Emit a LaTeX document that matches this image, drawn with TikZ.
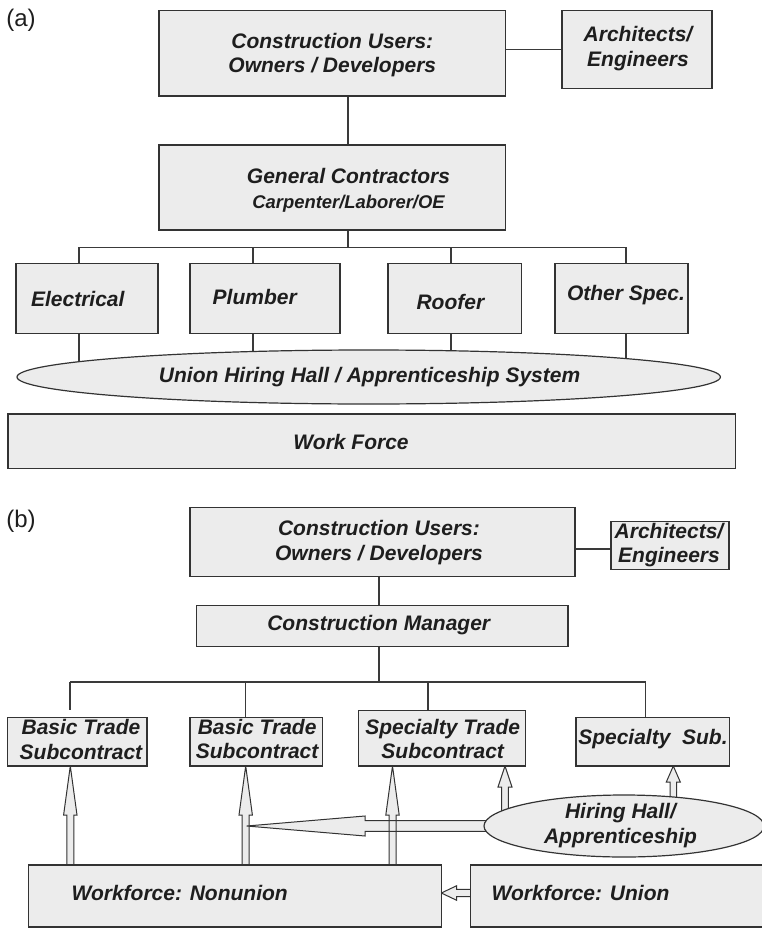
\documentclass[tikz,border=0pt]{standalone}
\usepackage{fontspec}
\setmainfont{Liberation Sans}
\usetikzlibrary{calc,shapes.geometric}
\definecolor{bf}{HTML}{ECECEC}
\definecolor{lc}{HTML}{333333}
\definecolor{cc}{HTML}{3A3A3A}
\definecolor{tc}{HTML}{1E1E1E}
\pgfdeclarelayer{bg}
\pgfsetlayers{bg,main}
% block arrow pointing up: [style]{x coord}{tip}{base}{head length}{shaft half}{head half}
\newcommand\blkup[7][]{%
  \path[#1] let \p1=(#2 |- #3), \p2=(#2 |- #4) in
    (\x1-#6pt,\y2) -- (\x1-#6pt,\y1-#5pt) -- (\x1-#7pt,\y1-#5pt) -- (\x1,\y1)
    -- (\x1+#7pt,\y1-#5pt) -- (\x1+#6pt,\y1-#5pt) -- (\x1+#6pt,\y2) -- cycle;}
% block arrow pointing left: [style]{y coord}{tip}{base}{head length}{shaft half}{head half}
\newcommand\blkleft[7][]{%
  \path[#1] let \p1=(#3 |- #2), \p2=(#4 |- #2) in
    (\x2,\y1+#6pt) -- (\x1+#5pt,\y1+#6pt) -- (\x1+#5pt,\y1+#7pt) -- (\x1,\y1)
    -- (\x1+#5pt,\y1-#7pt) -- (\x1+#5pt,\y1-#6pt) -- (\x2,\y1-#6pt) -- cycle;}
\tikzset{
  box/.style={rectangle, draw=lc, fill=bf, line width=1.2pt, inner sep=0pt, outer sep=0pt},
  oval/.style={ellipse, draw=lc, fill=bf, line width=1.2pt, inner sep=0pt, outer sep=0pt},
  tx/.style={font=\bfseries\itshape\fontsize{21}{24.5}\selectfont, text=tc, align=center, inner sep=0pt},
  lab/.style={font=\fontsize{24}{28}\selectfont, text=tc, inner sep=0pt},
  conn/.style={draw=cc, line width=1.1pt},
  afill/.style={fill=bf},
  aline/.style={draw=lc, line width=1pt, line join=miter},
}
\begin{document}
\begin{tikzpicture}[x=1pt,y=-1pt]
\useasboundingbox (0,0) rectangle (762,928);
% ---------------- (a) ----------------
\node[lab] (la) at (21,20) {(a)};
\node[box, minimum width=346.6pt, minimum height=85.3pt,
  label={[tx,yshift=-1.6pt]center:{Construction Users:\\Owners / Developers}}] (cuA) at (332.3,53.4) {};
\node[box, minimum width=150pt, minimum height=77.6pt,
  label={[tx,xshift=1pt,yshift=1pt]center:{Architects/\\Engineers}}] (arA) at (637,49.5) {};
\node[box, minimum width=346.6pt, minimum height=85pt,
  label={[tx,xshift=16.2pt,yshift=-3pt]center:{General Contractors\\\fontsize{18.4}{24.5}\selectfont Carpenter/Laborer/OE}}] (gcA) at (332.3,187.5) {};
\node[box, minimum width=142pt, minimum height=70pt,
  label={[tx,xshift=-9.2pt,yshift=-1pt]center:Electrical}] (el) at (87,298.3) {};
\node[box, minimum width=150pt, minimum height=70pt,
  label={[tx,xshift=-10.3pt,yshift=1.6pt]center:Plumber}] (pl) at (265,298.3) {};
\node[box, minimum width=133.6pt, minimum height=70pt,
  label={[tx,xshift=-4.4pt,yshift=-3.4pt]center:Roofer}] (ro) at (454.8,298.3) {};
\node[box, minimum width=133pt, minimum height=70pt,
  label={[tx,xshift=4.5pt,yshift=3.3pt]center:Other Spec.}] (os) at (621.5,298.3) {};
\node[oval, minimum width=703.4pt, minimum height=54pt,
  label={[tx,xshift=0.9pt]center:Union Hiring Hall / Apprenticeship System}] (hA) at (368.7,377) {};
\node[box, minimum width=727.5pt, minimum height=54.3pt,
  label={[tx,xshift=-20.7pt,yshift=-0.5pt]center:Work Force}] (wf) at (371.75,441.15) {};
% ---------------- (b) ----------------
\node[lab] (lb) at (21,521.5) {(b)};
\node[box, minimum width=385pt, minimum height=69pt,
  label={[tx,xshift=-3.5pt,yshift=-0.3pt]center:{Construction Users:\\Owners / Developers}}] (cuB) at (382.5,542.2) {};
\node[box, minimum width=118pt, minimum height=47.6pt,
  label={[tx,xshift=-1pt,yshift=0.6pt]center:{Architects/\\Engineers}}] (arB) at (670,545.5) {};
\node[box, minimum width=371.3pt, minimum height=41pt,
  label={[tx,xshift=-3.6pt,yshift=1.2pt]center:Construction Manager}] (cm) at (382.35,626.2) {};
\node[box, minimum width=139.7pt, minimum height=48.3pt,
  label={[tx,xshift=3.8pt,yshift=2.5pt]center:{Basic Trade\\Subcontract}}] (bt1) at (77.15,741.85) {};
\node[box, minimum width=132.3pt, minimum height=48.3pt,
  label={[tx,xshift=1pt,yshift=3pt]center:{Basic Trade\\Subcontract}}] (bt2) at (256.15,741.85) {};
\node[box, minimum width=167.4pt, minimum height=55.3pt,
  label={[tx,xshift=0.7pt,yshift=-0.5pt]center:{Specialty Trade\\Subcontract}}] (st) at (442,738.35) {};
\node[box, minimum width=153.3pt, minimum height=48.3pt,
  label={[tx,xshift=0.3pt,yshift=2.5pt]center:{Specialty\ \ Sub.}}] (ss) at (652.65,741.85) {};
\node[oval, minimum width=280pt, minimum height=62pt,
  label={[tx,xshift=-3.5pt,yshift=0.5pt]center:{Hiring Hall/\\Apprenticeship}}] (hh) at (624,826) {};
\node[box, minimum width=413pt, minimum height=62pt,
  label={[tx,xshift=-55.1pt,yshift=3pt]center:{Workforce: Nonunion}}] (wn) at (234.8,896) {};
\node[box, minimum width=293.3pt, minimum height=62pt,
  label={[tx,xshift=-36.8pt,yshift=3pt]center:{Workforce: Union}}] (wu) at (617.35,896) {};
% ---------------- coordinates ----------------
\coordinate (ca) at (348,0);  \coordinate (ba) at (0,247.3);
\coordinate (a1) at (79,0);   \coordinate (a2) at (253,0);
\coordinate (a3) at (451,0);  \coordinate (a4) at (626,0);
\coordinate (cb) at (379,0);  \coordinate (yb) at (0,549);  \coordinate (bb) at (0,682);
\coordinate (b1) at (70,0);   \coordinate (b2) at (245.7,0);
\coordinate (b3) at (428,0);  \coordinate (b4) at (645.7,0);
\coordinate (u1) at (70.3,0); \coordinate (u2) at (245.7,0); \coordinate (u3) at (392.5,0);
\coordinate (u4) at (505,0);  \coordinate (u5) at (673.3,0);
\coordinate (tipL) at (246.7,826); \coordinate (yu) at (0,893);
% ---------------- connectors (behind) ----------------
\begin{pgfonlayer}{bg}
\draw[conn] (cuA.center |- arA.center) -- (arA.center);
\draw[conn] (ca |- cuA.center) -- (ca |- gcA.center);
\draw[conn] (ca |- gcA.center) -- (ca |- ba);
\draw[conn] (a1 |- ba) -- (a4 |- ba);
\foreach \c/\n in {a1/el,a2/pl,a3/ro,a4/os}{
  \draw[conn] (\c |- ba) -- (\c |- \n.center);
  \draw[conn] (\c |- \n.center) -- (\c |- hA.center);
}
\draw[conn] (cuB.center |- yb) -- (arB.center |- yb);
\draw[conn] (cb |- cuB.center) -- (cb |- cm.center);
\draw[conn] (cb |- cm.center) -- (cb |- bb);
\draw[conn] (b1 |- bb) -- (b4 |- bb);
\draw[conn] (b1 |- bb) -- ++(0,28);
\draw[conn] (b2 |- bb) -- (b2 |- bt2.center);
\draw[conn] (b3 |- bb) -- (b3 |- st.center);
\draw[conn] (b4 |- bb) -- (b4 |- ss.center);
% block arrows: fills first, then outlines
\foreach \s in {afill,aline}{
  \blkup[\s]{u1}{bt1.south}{wn.north}{49}{3.5}{6.7}
  \blkup[\s]{u2}{bt2.south}{wn.north}{49}{3.5}{6.7}
  \blkup[\s]{u3}{st.south}{wn.north}{49}{3.5}{6.7}
  \blkup[\s]{u4}{st.south}{hh.center}{21}{3.3}{7}
  \blkup[\s]{u5}{ss.south}{hh.center}{16}{3.3}{7}
  \blkleft[\s]{tipL}{tipL}{hh.center}{118.3}{5.3}{10}
  \blkleft[\s]{yu}{wn.east}{wu.center}{15.4}{3.7}{7.3}
}
\end{pgfonlayer}
\end{tikzpicture}
\end{document}
